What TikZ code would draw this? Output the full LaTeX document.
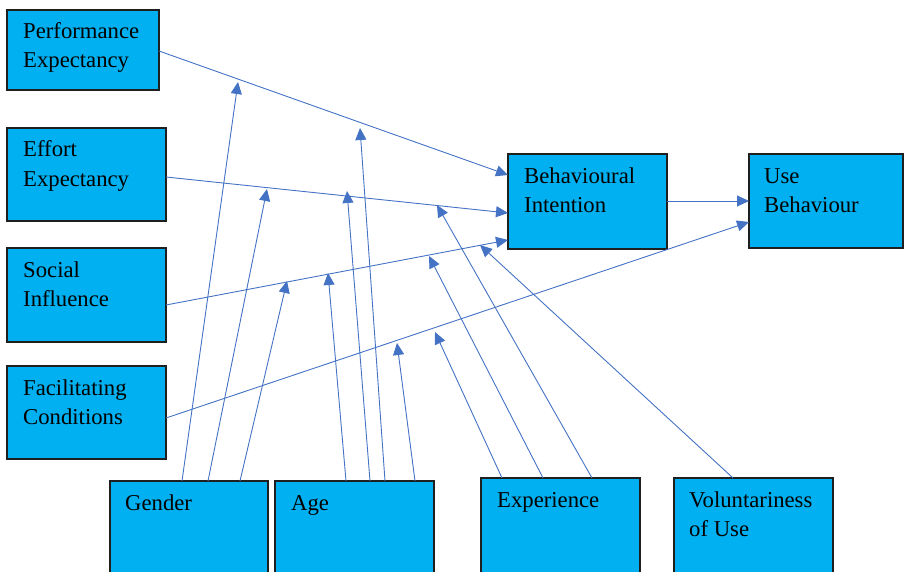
\documentclass[tikz,border=0pt]{standalone}
\usepackage{fontspec}
\setmainfont{Liberation Serif}
\usetikzlibrary{arrows.meta}
\definecolor{boxfill}{HTML}{00B0F0}
\definecolor{linkblue}{HTML}{4472C4}
\definecolor{boxline}{HTML}{1F1F1F}
\begin{document}
\begin{tikzpicture}[x=1pt,y=-1pt,
  box/.style={draw=boxline,fill=boxfill,line width=1.2pt},
  lbl/.style={anchor=base west,inner sep=0pt,font=\fontsize{22.7}{29}\selectfont},
  link/.style={draw=linkblue,line width=0.9pt,-{Triangle[length=12pt,width=11pt]}}]
\useasboundingbox (0,0) rectangle (904,572);
\clip (0,0) rectangle (904,572);
% boxes
\path[box] (7,10) rectangle (159,90) node[pos=0] (pe) {};
\path[box] (7,128) rectangle (166,221) node[pos=0] (ee) {};
\path[box] (7,248) rectangle (166,342) node[pos=0] (si) {};
\path[box] (7,366) rectangle (166,459) node[pos=0] (fc) {};
\path[box] (110,481) rectangle (268,600) node[pos=0] (gen) {};
\path[box] (275,481) rectangle (434,600) node[pos=0] (age) {};
\path[box] (481,478) rectangle (640,600) node[pos=0] (exp) {};
\path[box] (674,478) rectangle (833,600) node[pos=0] (vol) {};
\path[box] (508,154) rectangle (667,249) node[pos=0] (bi) {};
\path[box] (749,154) rectangle (903,248) node[pos=0] (ub) {};
% labels
\node[lbl] (pet1) at (23,39) {Performance};
\node[lbl] (pet2) at (23,68) {Expectancy};
\node[lbl] (eet1) at (23,157) {Effort};
\node[lbl] (eet2) at (23,186) {Expectancy};
\node[lbl] (sit1) at (23,277) {Social};
\node[lbl] (sit2) at (23,306) {Influence};
\node[lbl] (fct1) at (23,395) {Facilitating};
\node[lbl] (fct2) at (23,424) {Conditions};
\node[lbl] (gent) at (125,510) {Gender};
\node[lbl] (aget) at (291,510) {Age};
\node[lbl] (expt) at (497,507) {Experience};
\node[lbl] (volt1) at (689,507) {Voluntariness};
\node[lbl] (volt2) at (689,536) {of Use};
\node[lbl] (bit1) at (524,183) {Behavioural};
\node[lbl] (bit2) at (524,212) {Intention};
\node[lbl] (ubt1) at (764,183) {Use};
\node[lbl] (ubt2) at (764,212) {Behaviour};
% anchor points
\coordinate (peO) at (159,51);
\coordinate (eeO) at (166,177);
\coordinate (siO) at (166,305);
\coordinate (fcO) at (166,418);
\coordinate (biO) at (667,201);
\coordinate (biA) at (508,175);
\coordinate (biB) at (508,213);
\coordinate (biC) at (508,240);
\coordinate (ubA) at (749,201);
\coordinate (ubB) at (749,222);
% moderator starts
\coordinate (g1) at (182,481);
\coordinate (g2) at (208,481);
\coordinate (g3) at (240,481);
\coordinate (a1) at (346,481);
\coordinate (a2) at (370,481);
\coordinate (a3) at (385,481);
\coordinate (a4) at (415,481);
\coordinate (e1) at (502,478);
\coordinate (e2) at (543,478);
\coordinate (e3) at (592,478);
\coordinate (v1) at (733,478);
% moderator tips
\coordinate (tg1) at (238,82);
\coordinate (tg2) at (267,189);
\coordinate (tg3) at (287,281);
\coordinate (ta1) at (328,273);
\coordinate (ta2) at (347,191);
\coordinate (ta3) at (360,128);
\coordinate (ta4) at (397,343);
\coordinate (te1) at (435,332);
\coordinate (te2) at (429,256);
\coordinate (te3) at (437,205);
\coordinate (tv1) at (480,245);
% main links
\draw[link] (peO) -- (biA);
\draw[link] (eeO) -- (biB);
\draw[link] (siO) -- (biC);
\draw[link] (fcO) -- (ubB);
\draw[link] (biO) -- (ubA);
% moderator links
\draw[link] (g1) -- (tg1);
\draw[link] (g2) -- (tg2);
\draw[link] (g3) -- (tg3);
\draw[link] (a1) -- (ta1);
\draw[link] (a2) -- (ta2);
\draw[link] (a3) -- (ta3);
\draw[link] (a4) -- (ta4);
\draw[link] (e1) -- (te1);
\draw[link] (e2) -- (te2);
\draw[link] (e3) -- (te3);
\draw[link] (v1) -- (tv1);
\end{tikzpicture}
\end{document}
